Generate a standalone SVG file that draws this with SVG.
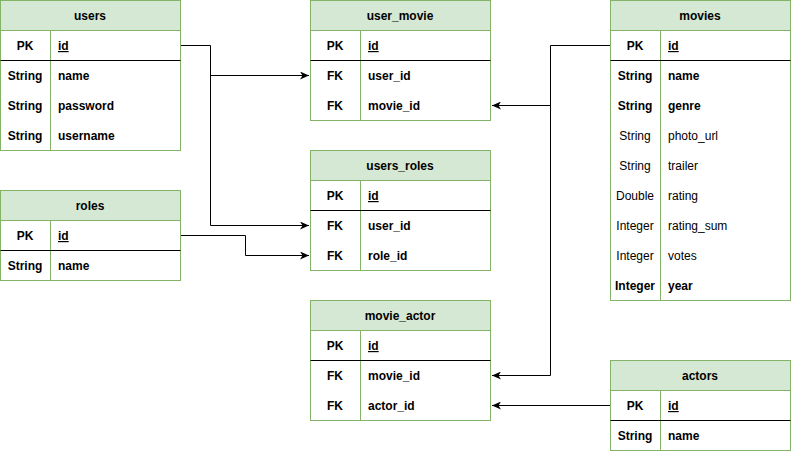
<svg xmlns="http://www.w3.org/2000/svg" width="791" height="451" viewBox="0 0 791 451">
<style>
.frame{fill:#ffffff;stroke:#82b366;stroke-width:1}
.head{fill:#d5e8d4;stroke:#82b366;stroke-width:1}
.col{stroke:#82b366;stroke-width:1}
.sep{stroke:#000000;stroke-width:1}
text{font-family:"Liberation Sans",Arial,Helvetica,sans-serif;font-size:12px;fill:#000000;font-weight:bold}
.c{text-anchor:middle}
.n{font-weight:normal}
.u{text-decoration:underline}
.edge{fill:none;stroke:#000000;stroke-width:1}
</style>
<defs>
<marker id="arr" markerUnits="userSpaceOnUse" markerWidth="9" markerHeight="8" viewBox="0 0 9 8" refX="9" refY="4" orient="auto">
<path d="M0,0 L9,4 L0,8 L2.5,4 Z" fill="#000000"/>
</marker>
</defs>
<rect width="791" height="451" fill="#ffffff"/>

<g id="connectors">
<path class="edge" d="M180.5,45.5 H210.5 V225.5 H309" marker-end="url(#arr)"/>
<path class="edge" d="M210.5,75.5 H309" marker-end="url(#arr)"/>
<path class="edge" d="M180.5,235.5 H245.5 V255.5 H309" marker-end="url(#arr)"/>
<path class="edge" d="M610.5,45.5 H550.5 V375.5 H492" marker-end="url(#arr)"/>
<path class="edge" d="M550.5,105.5 H492" marker-end="url(#arr)"/>
<path class="edge" d="M610.5,405.5 H492" marker-end="url(#arr)"/>
</g>

<g id="users">
<rect class="frame" x="0.5" y="0.5" width="180" height="150"/>
<rect class="head" x="0.5" y="0.5" width="180" height="30"/>
<line class="col" x1="50.5" y1="30.5" x2="50.5" y2="150.5"/>
<line class="sep" x1="0.5" y1="60.5" x2="180.5" y2="60.5"/>
<text class="c" x="90" y="20">users</text>
<text class="c" x="25" y="50">PK</text><text class="u" x="58" y="50">id</text>
<text class="c" x="25" y="80">String</text><text x="58" y="80">name</text>
<text class="c" x="25" y="110">String</text><text x="58" y="110">password</text>
<text class="c" x="25" y="140">String</text><text x="58" y="140">username</text>
</g>

<g id="roles">
<rect class="frame" x="0.5" y="190.5" width="180" height="90"/>
<rect class="head" x="0.5" y="190.5" width="180" height="30"/>
<line class="col" x1="50.5" y1="220.5" x2="50.5" y2="280.5"/>
<line class="sep" x1="0.5" y1="250.5" x2="180.5" y2="250.5"/>
<text class="c" x="90" y="210">roles</text>
<text class="c" x="25" y="240">PK</text><text class="u" x="58" y="240">id</text>
<text class="c" x="25" y="270">String</text><text x="58" y="270">name</text>
</g>

<g id="user_movie">
<rect class="frame" x="310.5" y="0.5" width="180" height="120"/>
<rect class="head" x="310.5" y="0.5" width="180" height="30"/>
<line class="col" x1="360.5" y1="30.5" x2="360.5" y2="120.5"/>
<line class="sep" x1="310.5" y1="60.5" x2="490.5" y2="60.5"/>
<text class="c" x="400" y="20">user_movie</text>
<text class="c" x="335" y="50">PK</text><text class="u" x="368" y="50">id</text>
<text class="c" x="335" y="80">FK</text><text x="368" y="80">user_id</text>
<text class="c" x="335" y="110">FK</text><text x="368" y="110">movie_id</text>
</g>

<g id="users_roles">
<rect class="frame" x="310.5" y="150.5" width="180" height="120"/>
<rect class="head" x="310.5" y="150.5" width="180" height="30"/>
<line class="col" x1="360.5" y1="180.5" x2="360.5" y2="270.5"/>
<line class="sep" x1="310.5" y1="210.5" x2="490.5" y2="210.5"/>
<text class="c" x="400" y="170">users_roles</text>
<text class="c" x="335" y="200">PK</text><text class="u" x="368" y="200">id</text>
<text class="c" x="335" y="230">FK</text><text x="368" y="230">user_id</text>
<text class="c" x="335" y="260">FK</text><text x="368" y="260">role_id</text>
</g>

<g id="movie_actor">
<rect class="frame" x="310.5" y="300.5" width="180" height="120"/>
<rect class="head" x="310.5" y="300.5" width="180" height="30"/>
<line class="col" x1="360.5" y1="330.5" x2="360.5" y2="420.5"/>
<line class="sep" x1="310.5" y1="360.5" x2="490.5" y2="360.5"/>
<text class="c" x="400" y="320">movie_actor</text>
<text class="c" x="335" y="350">PK</text><text class="u" x="368" y="350">id</text>
<text class="c" x="335" y="380">FK</text><text x="368" y="380">movie_id</text>
<text class="c" x="335" y="410">FK</text><text x="368" y="410">actor_id</text>
</g>

<g id="movies">
<rect class="frame" x="610.5" y="0.5" width="180" height="300"/>
<rect class="head" x="610.5" y="0.5" width="180" height="30"/>
<line class="col" x1="660.5" y1="30.5" x2="660.5" y2="300.5"/>
<line class="sep" x1="610.5" y1="60.5" x2="790.5" y2="60.5"/>
<text class="c" x="700" y="20">movies</text>
<text class="c" x="635" y="50">PK</text><text class="u" x="668" y="50">id</text>
<text class="c" x="635" y="80">String</text><text x="668" y="80">name</text>
<text class="c" x="635" y="110">String</text><text x="668" y="110">genre</text>
<text class="c n" x="635" y="140">String</text><text class="n" x="668" y="140">photo_url</text>
<text class="c n" x="635" y="170">String</text><text class="n" x="668" y="170">trailer</text>
<text class="c n" x="635" y="200">Double</text><text class="n" x="668" y="200">rating</text>
<text class="c n" x="635" y="230">Integer</text><text class="n" x="668" y="230">rating_sum</text>
<text class="c n" x="635" y="260">Integer</text><text class="n" x="668" y="260">votes</text>
<text class="c" x="635" y="290">Integer</text><text x="668" y="290">year</text>
</g>

<g id="actors">
<rect class="frame" x="610.5" y="360.5" width="180" height="90"/>
<rect class="head" x="610.5" y="360.5" width="180" height="30"/>
<line class="col" x1="660.5" y1="390.5" x2="660.5" y2="450.5"/>
<line class="sep" x1="610.5" y1="420.5" x2="790.5" y2="420.5"/>
<text class="c" x="700" y="380">actors</text>
<text class="c" x="635" y="410">PK</text><text class="u" x="668" y="410">id</text>
<text class="c" x="635" y="440">String</text><text x="668" y="440">name</text>
</g>
</svg>
